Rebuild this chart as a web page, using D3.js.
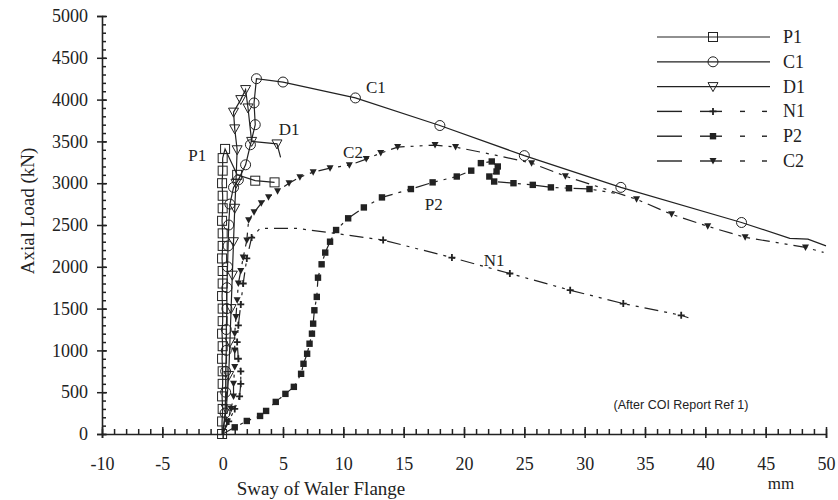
<!DOCTYPE html>
<html><head><meta charset="utf-8">
<script src="https://cdn.jsdelivr.net/npm/d3@7"></script>
<style>
body{margin:0;background:#fff;}
svg{display:block;}
text{font-family:"Liberation Serif","Times New Roman",serif;fill:#222;}
</style></head>
<body><svg id="c" width="838" height="500"></svg>
<script>
// ---- data ----
const xTicks = [-10,-5,0,5,10,15,20,25,30,35,40,45,50];
const yTicks = [0,500,1000,1500,2000,2500,3000,3500,4000,4500,5000];

const p1X = [-0.05,-0.05,0,-0.05,0,0,-0.05,0,-0.05,0,0,-0.05,0,0,-0.05,0,0,-0.05,0,0,-0.05,0,0,0.2,1.2,2.7,4.3];
const p1Y = [0,150,300,450,600,750,900,1050,1200,1350,1500,1650,1800,1950,2100,2250,2400,2550,2700,2850,3000,3150,3300,3410,3100,3030,3010];
const p1M = p1X.map(() => 1);

const c1X = [0,0.2,0.25,0.25,0.3,0.3,0.35,0.35,0.4,0.45,0.5,0.6,0.9,1.3,1.9,2.3,2.7,2.6,2.8,5.0,11,18,25,33,43,47,48.5,50];
const c1Y = [0,250,500,750,1000,1250,1500,1750,2000,2250,2500,2750,2950,3040,3220,3460,3700,3960,4250,4210,4020,3690,3330,2950,2530,2340,2330,2250];
const c1M = [0,1,1,1,1,1,1,1,1,1,1,1,1,1,1,1,1,1,1,1,1,1,1,1,1,0,0,0];

const d1X = [0,0.3,0.5,0.6,0.7,0.8,0.9,1.0,1.1,1.2,1.0,0.9,1.5,1.9,2.1,2.4,4.5,4.8];
const d1Y = [0,300,700,1100,1500,1900,2300,2700,3000,3400,3650,3850,4000,4120,3900,3500,3470,3310];
const d1M = [0,1,1,1,1,1,1,1,1,1,1,1,1,1,1,1,1,0];

const n1X = [0,0.5,1.0,1.4,1.5,1.5,1.3,1.2,1.3,1.5,1.7,2.0,2.4,3.1,6.1,8.8,13.3,19.0,23.8,28.8,33.2,38.0,38.6];
const n1Y = [0,150,300,450,600,750,900,1100,1300,1550,1800,2100,2350,2460,2460,2410,2320,2110,1920,1720,1560,1420,1390];
const n1M = [0,1,1,1,1,1,1,1,1,1,1,1,1,0,0,0,1,1,1,1,1,1,0];

const p2X = [0,1.0,2.0,3.1,3.6,4.4,5.2,5.9,6.5,6.7,7.0,7.2,7.4,7.5,7.6,7.8,7.9,8.2,8.5,8.9,9.4,10.4,11.7,13.2,15.6,17.4,19.4,20.6,21.4,22.3,22.8,22.7,22.1,22.5,24.1,25.7,27.2,28.7,30.4,32.5];
const p2Y = [0,80,156,216,276,384,480,564,720,840,960,1080,1200,1320,1480,1640,1870,2030,2170,2300,2440,2580,2710,2830,2930,3010,3080,3150,3240,3260,3200,3140,3080,3020,3000,2980,2950,2940,2930,2880];
const p2M = p2X.map((d,i) => (i === 0 || i === p2X.length-1) ? 0 : 1);

const c2X = [0,0.4,0.7,0.9,0.9,1.0,1.0,1.0,1.1,1.2,1.3,1.5,1.7,2.0,2.15,2.6,3.2,3.8,4.55,5.5,6.4,7.5,8.9,10.5,11.9,13.1,14.5,17.6,19.3,22.6,25.6,28.4,34.3,37.2,40.2,43.3,48.3,49.8];
const c2Y = [0,150,300,450,600,800,1000,1200,1400,1600,1800,1950,2110,2316,2556,2652,2760,2832,2904,3000,3072,3132,3180,3216,3288,3360,3432,3456,3432,3336,3240,3084,2808,2628,2484,2352,2232,2172];
const c2M = c2X.map((d,i) => (i === 0 || i === 29 || i === c2X.length-1) ? 0 : 1);

const seriesNames = ["P1","C1","D1","N1","P2","C2"];
const labelNames = ["C1","D1","P1","C2","P2","N1"];
const labelX = [12.7,5.5,-2.1,10.8,17.5,22.5];
const labelY = [4140,3640,3330,3370,2750,2080];

// ---- drawing ----
const svg = d3.select("#c");
const x = d3.scaleLinear().domain([-10,50]).range([102,826]);
const y = d3.scaleLinear().domain([0,5000]).range([434,16]);
const ink = "#222";

const series = [
  {name:seriesNames[0], xs:p1X, ys:p1Y, ms:p1M, marker:"sqOpen", dash:null},
  {name:seriesNames[1], xs:c1X, ys:c1Y, ms:c1M, marker:"circOpen", dash:null},
  {name:seriesNames[2], xs:d1X, ys:d1Y, ms:d1M, marker:"triOpen", dash:null},
  {name:seriesNames[3], xs:n1X, ys:n1Y, ms:n1M, marker:"plus", dash:"14,6,3,6,3,6"},
  {name:seriesNames[4], xs:p2X, ys:p2Y, ms:p2M, marker:"sqFill", dash:"14,6,3,6,3,6"},
  {name:seriesNames[5], xs:c2X, ys:c2Y, ms:c2M, marker:"triFill", dash:"14,6,3,6,3,6"}
];

function drawMarker(g, type, cx, cy){
  if(type==="sqOpen"){
    g.append("rect").attr("x",cx-4.5).attr("y",cy-4.5).attr("width",9).attr("height",9)
     .attr("fill","none").attr("stroke",ink).attr("stroke-width",1);
  } else if(type==="circOpen"){
    g.append("circle").attr("cx",cx).attr("cy",cy).attr("r",5)
     .attr("fill","none").attr("stroke",ink).attr("stroke-width",1);
  } else if(type==="triOpen"){
    g.append("path").attr("d",`M${cx-5},${cy-4}L${cx+5},${cy-4}L${cx},${cy+5}Z`)
     .attr("fill","none").attr("stroke",ink).attr("stroke-width",1);
  } else if(type==="plus"){
    g.append("path").attr("d",`M${cx-3.5},${cy}L${cx+3.5},${cy}M${cx},${cy-3.5}L${cx},${cy+3.5}`)
     .attr("stroke",ink).attr("stroke-width",1.8);
  } else if(type==="sqFill"){
    g.append("rect").attr("x",cx-3.2).attr("y",cy-3.2).attr("width",6.4).attr("height",6.4).attr("fill",ink);
  } else if(type==="triFill"){
    g.append("path").attr("d",`M${cx-3.5},${cy-3}L${cx+3.5},${cy-3}L${cx},${cy+3.5}Z`).attr("fill",ink);
  }
}

const fmt = d => String(d);

// axes
const yAxisG = svg.append("g").attr("transform",`translate(${x(-10)},0)`);
yAxisG.call(d3.axisLeft(y).tickValues(yTicks).tickSize(5).tickPadding(9).tickFormat(fmt));
svg.append("g").attr("transform",`translate(${x(-10)},0)`)
  .call(d3.axisRight(y).tickValues(yTicks).tickSize(5).tickFormat(""))
  .call(g=>g.select(".domain").remove());
svg.append("g").attr("transform",`translate(${x(-10)},0)`)
  .call(d3.axisRight(y).tickValues(d3.range(0,5001,100)).tickSize(4).tickFormat(""))
  .call(g=>g.select(".domain").remove());

const xAxisG = svg.append("g").attr("transform",`translate(0,${y(0)})`);
xAxisG.call(d3.axisBottom(x).tickValues(xTicks).tickSize(4).tickPadding(19).tickFormat(fmt));
svg.append("g").attr("transform",`translate(0,${y(0)})`)
  .call(d3.axisTop(x).tickValues(xTicks).tickSize(7).tickFormat(""))
  .call(g=>g.select(".domain").remove());
svg.append("g").attr("transform",`translate(0,${y(0)})`)
  .call(d3.axisTop(x).tickValues(d3.range(-10,51,1)).tickSize(5).tickFormat(""))
  .call(g=>g.select(".domain").remove());

svg.selectAll(".domain").attr("stroke",ink).attr("stroke-width",1.6);
svg.selectAll(".tick line").attr("stroke",ink).attr("stroke-width",1.5);
svg.selectAll(".tick text").attr("font-family","Liberation Serif, serif").attr("font-size",18).attr("fill",ink);

// series
const line = d3.line().x(d=>x(d[0])).y(d=>y(d[1]));
series.forEach(s=>{
  const pts = s.xs.map((v,i)=>[v,s.ys[i]]);
  const g = svg.append("g");
  g.append("path").attr("d",line(pts)).attr("fill","none").attr("stroke",ink)
   .attr("stroke-width",1.2).attr("stroke-dasharray",s.dash);
  pts.forEach((p,i)=>{ if(s.ms[i]) drawMarker(g, s.marker, x(p[0]), y(p[1])); });
});

// curve labels
labelNames.forEach((n,i)=>{
  svg.append("text").attr("x",x(labelX[i])).attr("y",y(labelY[i])).attr("text-anchor","middle")
    .attr("dominant-baseline","central").attr("font-size",17).text(n);
});

// legend
const lg = svg.append("g");
series.forEach((s,i)=>{
  const ly = 37 + i*24.8;
  if(!s.dash){
    lg.append("line").attr("x1",657).attr("x2",770).attr("y1",ly).attr("y2",ly).attr("stroke",ink).attr("stroke-width",1.2);
  } else {
    [[657,682],[700,722],[740,745],[762,767]].forEach(seg=>{
      lg.append("line").attr("x1",seg[0]).attr("x2",seg[1]).attr("y1",ly).attr("y2",ly).attr("stroke",ink).attr("stroke-width",1.4);
    });
  }
  drawMarker(lg, s.marker, 713, ly);
  lg.append("text").attr("x",783).attr("y",ly).attr("dominant-baseline","central").attr("font-size",18).text(s.name);
});

// titles
svg.append("text").attr("transform",`translate(27,211) rotate(-90)`).attr("text-anchor","middle")
  .attr("dominant-baseline","central").attr("font-size",19).text("Axial Load (kN)");
svg.append("text").attr("x",321).attr("y",488).attr("text-anchor","middle")
  .attr("dominant-baseline","central").attr("font-size",19).text("Sway of Waler Flange");
svg.append("text").attr("x",781).attr("y",483).attr("text-anchor","middle")
  .attr("dominant-baseline","central").attr("font-size",17).text("mm");
svg.append("text").attr("x",681).attr("y",405).attr("text-anchor","middle")
  .attr("dominant-baseline","central").attr("font-size",12.5)
  .style("font-family","'Liberation Sans', Arial, sans-serif").text("(After COI Report Ref 1)");
</script></body></html>
